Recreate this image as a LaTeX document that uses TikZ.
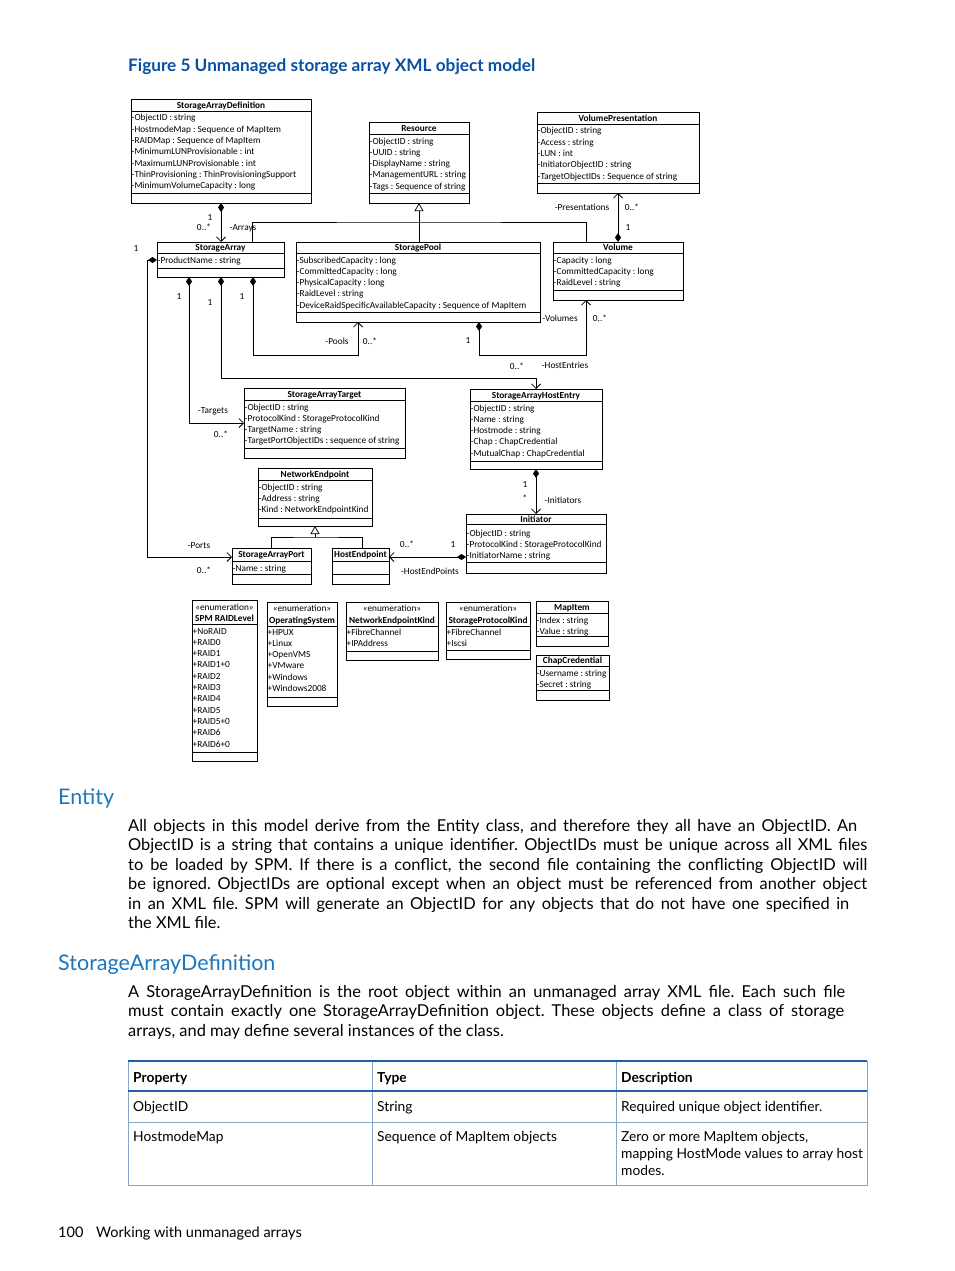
\documentclass[tikz,border=0pt]{standalone}
\usepackage{fontspec}
\setmainfont{Lato}
\newfontfamily\umlfont{Carlito}
\usetikzlibrary{arrows.meta}
\definecolor{figblue}{RGB}{8,80,162}
\definecolor{headblue}{RGB}{28,118,188}
\definecolor{tabblue}{RGB}{30,95,165}
\definecolor{tabline}{RGB}{135,165,200}
\frenchspacing

\begin{document}
\begin{tikzpicture}[x=1pt,y=-1pt]
    \pgfmathsetmacro{\rowgap}{11.3}
    \tikzset{classbox/.style={draw,line width=0.75pt,inner sep=0pt,outer sep=0pt},
        sep/.style={line width=0.75pt},
        ctitle/.style={inner sep=0pt,font=\umlfont\bfseries\fontsize{9.3}{10}\selectfont,text height=7pt,text depth=1pt},
        attr/.style={anchor=west,inner sep=0pt,font=\umlfont\fontsize{9.3}{10}\selectfont,text height=7pt,text depth=1pt},
        lbl/.style={inner sep=0pt,font=\umlfont\fontsize{9.3}{10}\selectfont,text height=7pt,text depth=1pt},
        comp/.style={line width=0.75pt,{Diamond[length=9pt,width=6pt]}-{Straight Barb[length=4.5pt,width=9pt]}},
        gen/.style={line width=0.75pt,-{Triangle[open,length=8pt,width=9pt]}},
        figtitle/.style={anchor=base west,inner sep=0pt,text=figblue,font=\bfseries\fontsize{17.2}{20}\selectfont},
        heading/.style={anchor=base west,inner sep=0pt,text=headblue,font=\fontsize{21.5}{25}\selectfont},
        bodyline/.style={anchor=base west,inner sep=0pt,font=\fontsize{16.4}{19}\selectfont},
        tabtext/.style={anchor=base west,inner sep=0pt,font=\fontsize{13.8}{16}\selectfont},
        tabhead/.style={tabtext,font=\bfseries\fontsize{13.8}{16}\selectfont},
        foot/.style={anchor=base west,inner sep=0pt,font=\fontsize{14.5}{17}\selectfont}}
    \useasboundingbox (0,0) rectangle (954,1271);
    \node[figtitle] (fig) at (128,72) {Figure 5 Unmanaged storage array XML object model};

    \node[classbox,minimum width=180,minimum height=104] (sad) at (221,151) {};
    \draw[sep] (sad.west |- 0,111) -- (sad.east |- 0,111) (sad.west |- 0,193) -- (sad.east |- 0,193);
    \node[ctitle] (sad-t) at (221,105.5) {StorageArrayDefinition};
    \foreach \txt [count=\i from 0] in {-ObjectID : string,-HostmodeMap : Sequence of MapItem,-RAIDMap : Sequence of MapItem,-MinimumLUNProvisionable : int,-MaximumLUNProvisionable : int,-ThinProvisioning : ThinProvisioningSupport,-MinimumVolumeCapacity : long}
        \node[attr] (sad-\i) at (131.5,118+\i*\rowgap) {\txt};

    \node[classbox,minimum width=100,minimum height=81] (res) at (419,162.5) {};
    \draw[sep] (res.west |- 0,134) -- (res.east |- 0,134) (res.west |- 0,193) -- (res.east |- 0,193);
    \node[ctitle] (res-t) at (419,128.5) {Resource};
    \foreach \txt [count=\i from 0] in {-ObjectID : string,-UUID : string,-DisplayName : string,-ManagementURL : string,-Tags : Sequence of string}
        \node[attr] (res-\i) at (369.5,141+\i*\rowgap) {\txt};

    \node[classbox,minimum width=162,minimum height=81] (vp) at (618,152.5) {};
    \draw[sep] (vp.west |- 0,124) -- (vp.east |- 0,124) (vp.west |- 0,183) -- (vp.east |- 0,183);
    \node[ctitle] (vp-t) at (618,118.5) {VolumePresentation};
    \foreach \txt [count=\i from 0] in {-ObjectID : string,-Access : string,-LUN : int,-InitiatorObjectID : string,-TargetObjectIDs : Sequence of string}
        \node[attr] (vp-\i) at (537.5,131+\i*\rowgap) {\txt};

    \node[classbox,minimum width=127,minimum height=35] (sa) at (220.5,259.5) {};
    \draw[sep] (sa.west |- 0,253) -- (sa.east |- 0,253) (sa.west |- 0,268) -- (sa.east |- 0,268);
    \node[ctitle] (sa-t) at (220.5,247.5) {StorageArray};
    \node[attr] (sa-0) at (157.5,260) {-ProductName : string};

    \node[classbox,minimum width=244,minimum height=80] (sp) at (418,282) {};
    \draw[sep] (sp.west |- 0,253) -- (sp.east |- 0,253) (sp.west |- 0,312) -- (sp.east |- 0,312);
    \node[ctitle] (sp-t) at (418,247.5) {StoragePool};
    \foreach \txt [count=\i from 0] in {-SubscribedCapacity : long,-CommittedCapacity : long,-PhysicalCapacity : long,-RaidLevel : string,-DeviceRaidSpecificAvailableCapacity : Sequence of MapItem}
        \node[attr] (sp-\i) at (296.5,260+\i*\rowgap) {\txt};

    \node[classbox,minimum width=130,minimum height=58] (vol) at (618,271) {};
    \draw[sep] (vol.west |- 0,253) -- (vol.east |- 0,253) (vol.west |- 0,290) -- (vol.east |- 0,290);
    \node[ctitle] (vol-t) at (618,247.5) {Volume};
    \foreach \txt [count=\i from 0] in {-Capacity : long,-CommittedCapacity : long,-RaidLevel : string}
        \node[attr] (vol-\i) at (553.5,260+\i*\rowgap) {\txt};

    \node[classbox,minimum width=161,minimum height=70] (sat) at (324.5,423) {};
    \draw[sep] (sat.west |- 0,400) -- (sat.east |- 0,400) (sat.west |- 0,448) -- (sat.east |- 0,448);
    \node[ctitle] (sat-t) at (324.5,394) {StorageArrayTarget};
    \foreach \txt [count=\i from 0] in {-ObjectID : string,-ProtocolKind : StorageProtocolKind,-TargetName : string,-TargetPortObjectIDs : sequence of string}
        \node[attr] (sat-\i) at (244.5,407+\i*\rowgap) {\txt};

    \node[classbox,minimum width=132,minimum height=80] (sahe) at (536,429) {};
    \draw[sep] (sahe.west |- 0,401) -- (sahe.east |- 0,401) (sahe.west |- 0,461) -- (sahe.east |- 0,461);
    \node[ctitle] (sahe-t) at (536,395) {StorageArrayHostEntry};
    \foreach \txt [count=\i from 0] in {-ObjectID : string,-Name : string,-Hostmode : string,-Chap : ChapCredential,-MutualChap : ChapCredential}
        \node[attr] (sahe-\i) at (470.5,408+\i*\rowgap) {\txt};

    \node[classbox,minimum width=114,minimum height=58] (ne) at (315,497) {};
    \draw[sep] (ne.west |- 0,480) -- (ne.east |- 0,480) (ne.west |- 0,518) -- (ne.east |- 0,518);
    \node[ctitle] (ne-t) at (315,474) {NetworkEndpoint};
    \foreach \txt [count=\i from 0] in {-ObjectID : string,-Address : string,-Kind : NetworkEndpointKind}
        \node[attr] (ne-\i) at (258.5,487+\i*\rowgap) {\txt};

    \node[classbox,minimum width=79,minimum height=36] (sap) at (271.5,566) {};
    \draw[sep] (sap.west |- 0,561) -- (sap.east |- 0,561) (sap.west |- 0,574) -- (sap.east |- 0,574);
    \node[ctitle] (sap-t) at (271.5,554.5) {StorageArrayPort};
    \node[attr] (sap-0) at (232.5,568) {-Name : string};

    \node[classbox,minimum width=57,minimum height=36] (hep) at (360.5,566) {};
    \draw[sep] (hep.west |- 0,561) -- (hep.east |- 0,561) (hep.west |- 0,574) -- (hep.east |- 0,574);
    \node[ctitle] (hep-t) at (360.5,554.5) {HostEndpoint};

    \node[classbox,minimum width=140,minimum height=59] (ini) at (536,543.5) {};
    \draw[sep] (ini.west |- 0,524) -- (ini.east |- 0,524) (ini.west |- 0,562) -- (ini.east |- 0,562);
    \node[ctitle] (ini-t) at (536,519.5) {Initiator};
    \foreach \txt [count=\i from 0] in {-ObjectID : string,-ProtocolKind : StorageProtocolKind,-InitiatorName : string}
        \node[attr] (ini-\i) at (466.5,533+\i*\rowgap) {\txt};

    \node[classbox,minimum width=65,minimum height=161] (spm) at (224.5,680.5) {};
    \draw[sep] (spm.west |- 0,624) -- (spm.east |- 0,624) (spm.west |- 0,752) -- (spm.east |- 0,752);
    \node[lbl] (spm-s) at (224.5,607) {«enumeration»};
    \node[ctitle] (spm-t) at (224.5,618) {SPM RAIDLevel};
    \foreach \txt [count=\i from 0] in {+NoRAID,+RAID0,+RAID1,+RAID1+0,+RAID2,+RAID3,+RAID4,+RAID5,+RAID5+0,+RAID6,+RAID6+0}
        \node[attr] (spm-\i) at (192.5,631+\i*\rowgap) {\txt};

    \node[classbox,minimum width=70,minimum height=104] (os) at (302,654) {};
    \draw[sep] (os.west |- 0,626) -- (os.east |- 0,626) (os.west |- 0,697) -- (os.east |- 0,697);
    \node[lbl] (os-s) at (302,608) {«enumeration»};
    \node[ctitle] (os-t) at (302,620) {OperatingSystem};
    \foreach \txt [count=\i from 0] in {+HPUX,+Linux,+OpenVMS,+VMware,+Windows,+Windows2008}
        \node[attr] (os-\i) at (267.5,632+\i*\rowgap) {\txt};

    \node[classbox,minimum width=92,minimum height=58] (nek) at (392,631) {};
    \draw[sep] (nek.west |- 0,626) -- (nek.east |- 0,626) (nek.west |- 0,651) -- (nek.east |- 0,651);
    \node[lbl] (nek-s) at (392,608) {«enumeration»};
    \node[ctitle] (nek-t) at (392,620) {NetworkEndpointKind};
    \foreach \txt [count=\i from 0] in {+FibreChannel,+IPAddress}
        \node[attr] (nek-\i) at (346.5,632+\i*\rowgap) {\txt};

    \node[classbox,minimum width=84,minimum height=57] (spk) at (488,630.5) {};
    \draw[sep] (spk.west |- 0,626) -- (spk.east |- 0,626) (spk.west |- 0,650) -- (spk.east |- 0,650);
    \node[lbl] (spk-s) at (488,608) {«enumeration»};
    \node[ctitle] (spk-t) at (488,620) {StorageProtocolKind};
    \foreach \txt [count=\i from 0] in {+FibreChannel,+Iscsi}
        \node[attr] (spk-\i) at (446.5,632+\i*\rowgap) {\txt};

    \node[classbox,minimum width=72,minimum height=45] (mi) at (572,623.5) {};
    \draw[sep] (mi.west |- 0,613) -- (mi.east |- 0,613) (mi.west |- 0,636) -- (mi.east |- 0,636);
    \node[ctitle] (mi-t) at (572,607) {MapItem};
    \foreach \txt [count=\i from 0] in {-Index : string,-Value : string}
        \node[attr] (mi-\i) at (536.5,620+\i*\rowgap) {\txt};

    \node[classbox,minimum width=73,minimum height=45] (cc) at (572.5,677.5) {};
    \draw[sep] (cc.west |- 0,666) -- (cc.east |- 0,666) (cc.west |- 0,690) -- (cc.east |- 0,690);
    \node[ctitle] (cc-t) at (572.5,660.5) {ChapCredential};
    \foreach \txt [count=\i from 0] in {-Username : string,-Secret : string}
        \node[attr] (cc-\i) at (536.5,673+\i*\rowgap) {\txt};

    \coordinate (resj) at (419,222);
    \coordinate (nej) at (315,537);
    \draw[sep] (sa.north -| 252,0) |- (resj) -| (vol.north -| 586,0);
    \draw[gen] (sp.north -| resj) -- (res.south);
    \draw[comp] (sad.south) -- (sa.north -| sad.south);
    \draw[comp] (vol.north -| vp.south) -- (vp.south);
    \draw[comp] (sa.south -| 253,0) -- ++(0,78) -| (sp.south -| 358,0);
    \draw[comp] (sp.south -| 479,0) -- ++(0,33) -| (vol.south -| 586,0);
    \draw[comp] (sa.south -| 221,0) -- ++(0,101) -| (sahe.north);
    \draw[comp] (sa.south -| 189,0) |- (sat.west);
    \draw[comp] (sa.west |- 0,260) -- ++(-10,0) |- (sap.west |- 0,557);
    \draw[sep] (sap.north -| 271,0) |- (nej) -| (hep.north -| 362,0);
    \draw[gen] (nej) -- (ne.south);
    \draw[comp] (ini.west |- 0,557) -- (hep.east |- 0,557);
    \draw[comp] (sahe.south) -- (ini.north -| sahe.south);

    \node[lbl] (arr-1) at (210,217) {1};
    \node[lbl] (arr-n) at (204,227) {0..*};
    \node[lbl] (arr-r) at (243,227) {-Arrays};
    \node[lbl] (pre-r) at (582,207) {-Presentations};
    \node[lbl] (pre-n) at (632,207) {0..*};
    \node[lbl] (pre-1) at (628,227) {1};
    \node[lbl] (por-1) at (136,248) {1};
    \node[lbl] (tar-1) at (179,296) {1};
    \node[lbl] (hen-1) at (210,302) {1};
    \node[lbl] (poo-1) at (242,296) {1};
    \node[lbl] (poo-r) at (337,341) {-Pools};
    \node[lbl] (poo-n) at (370,341) {0..*};
    \node[lbl] (vls-1) at (468,340) {1};
    \node[lbl] (vls-r) at (560,318) {-Volumes};
    \node[lbl] (vls-n) at (600,318) {0..*};
    \node[lbl] (hen-n) at (517,366) {0..*};
    \node[lbl] (hen-r) at (565,365) {-HostEntries};
    \node[lbl] (tar-r) at (213,410) {-Targets};
    \node[lbl] (tar-n) at (221,434) {0..*};
    \node[lbl] (ins-1) at (525,484) {1};
    \node[lbl] (ins-n) at (525,498) {*};
    \node[lbl] (ins-r) at (563,500) {-Initiators};
    \node[lbl] (por-r) at (199,545) {-Ports};
    \node[lbl] (por-n) at (204,570) {0..*};
    \node[lbl] (hep-n) at (407,544) {0..*};
    \node[lbl] (hep-1) at (453,544) {1};
    \node[lbl] (hep-r) at (430,571) {-HostEndPoints};

    \node[heading] (h-ent) at (58,804) {Entity};
    \node[bodyline] (ent-1) at (128,831) {\makebox[729pt][s]{All objects in this model derive from the Entity class, and therefore they all have an ObjectID. An}};
    \node[bodyline] (ent-2) at (128,850.5) {\makebox[739pt][s]{ObjectID is a string that contains a unique identifier. ObjectIDs must be unique across all XML files}};
    \node[bodyline] (ent-3) at (128,870) {\makebox[739pt][s]{to be loaded by SPM. If there is a conflict, the second file containing the conflicting ObjectID will}};
    \node[bodyline] (ent-4) at (128,889.5) {\makebox[739pt][s]{be ignored. ObjectIDs are optional except when an object must be referenced from another object}};
    \node[bodyline] (ent-5) at (128,909) {\makebox[721pt][s]{in an XML file. SPM will generate an ObjectID for any objects that do not have one specified in}};
    \node[bodyline] (ent-6) at (128,928.5) {the XML file.};

    \node[heading] (h-sad) at (58,970) {StorageArrayDefinition};
    \node[bodyline] (sad-p1) at (128,997) {\makebox[717pt][s]{A StorageArrayDefinition is the root object within an unmanaged array XML file. Each such file}};
    \node[bodyline] (sad-p2) at (128,1016.5) {\makebox[716pt][s]{must contain exactly one StorageArrayDefinition object. These objects define a class of storage}};
    \node[bodyline] (sad-p3) at (128,1036) {arrays, and may define several instances of the class.};

    \draw[tabline,line width=0.8pt] (128,1061) -- (128,1185) -- (867,1185) -- (867,1061) (372,1061) -- (372,1185) (616,1061) -- (616,1185) (128,1122) -- (867,1122);
    \draw[tabblue,line width=1.6pt] (128,1091) -- (867,1091);
    \draw[tabblue,line width=2.6pt] (128,1061) -- (867,1061);
    \node[tabhead] (th-1) at (133,1082) {Property};
    \node[tabhead] (th-2) at (377,1082) {Type};
    \node[tabhead] (th-3) at (621,1082) {Description};
    \node[tabtext] (r1-1) at (133,1111) {ObjectID};
    \node[tabtext] (r1-2) at (377,1111) {String};
    \node[tabtext] (r1-3) at (621,1111) {Required unique object identifier.};
    \node[tabtext] (r2-1) at (133,1141) {HostmodeMap};
    \node[tabtext] (r2-2) at (377,1141) {Sequence of MapItem objects};
    \node[tabtext] (r2-3) at (621,1141) {Zero or more MapItem objects,};
    \node[tabtext] (r2-4) at (621,1158) {mapping HostMode values to array host};
    \node[tabtext] (r2-5) at (621,1175) {modes.};

    \node[foot] (pg-n) at (58,1237) {100};
    \node[foot] (pg-t) at (96,1237) {Working with unmanaged arrays};
\end{tikzpicture}
\end{document}
